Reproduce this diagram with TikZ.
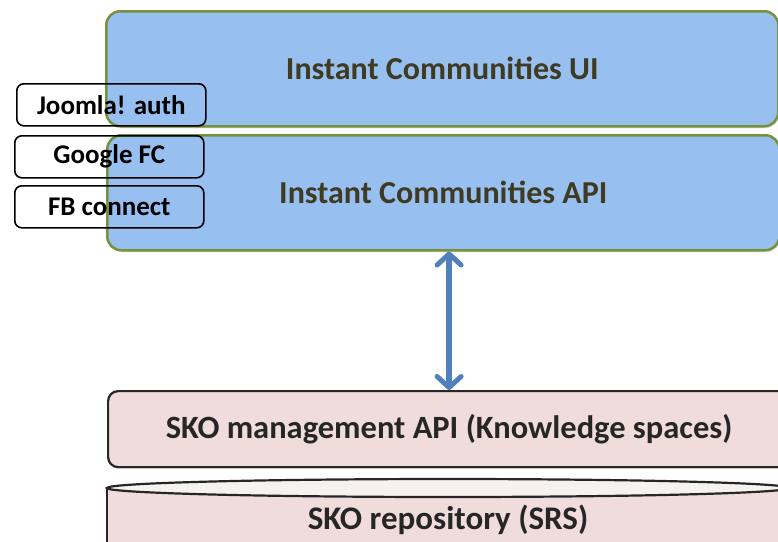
\documentclass[tikz,border=0pt]{standalone}
\usepackage{fontspec}
\setmainfont{Carlito}
\usetikzlibrary{arrows.meta,shadows}
\definecolor{uiblue}{HTML}{97BFF0}
\definecolor{uigreen}{HTML}{76923C}
\definecolor{uitext}{HTML}{3F3A22}
\definecolor{skopink}{HTML}{F0DCDB}
\definecolor{skotop}{HTML}{F6F2F2}
\definecolor{arrowblue}{HTML}{4F81BD}

\begin{document}
\begin{tikzpicture}[x=1pt,y=-1pt,
  layer/.style={draw=uigreen, line width=2.5pt, fill=uiblue, rounded corners=14pt,
    text=uitext, font=\bfseries\fontsize{32}{38}\selectfont,
    minimum width=672pt, minimum height=115pt, inner sep=0pt, anchor=north west,
    drop shadow={opacity=0.25, shadow xshift=1pt, shadow yshift=-2pt}},
  authbox/.style={draw=black, line width=1.6pt, rounded corners=7pt,
    font=\bfseries\fontsize{27}{32}\selectfont,
    minimum width=189pt, minimum height=42pt, inner sep=0pt, anchor=north west},
  skobox/.style={draw=black!85, line width=2.2pt, fill=skopink, rounded corners=10pt,
    text=black!85, font=\bfseries\fontsize{32.5}{38}\selectfont,
    minimum width=682pt, minimum height=76pt, inner sep=0pt, anchor=north west,
    drop shadow={opacity=0.25, shadow xshift=1pt, shadow yshift=-2pt}}
  ]
  \useasboundingbox (0,0) rectangle (778,541);

  % instant communities layers
  \node[layer] (ui) at (105,10) {Instant Communities UI};
  \node[layer] (api) at (106,134) {Instant Communities API};

  % authentication plugins
  \node[authbox] (joomla) at (16,83) {Joomla! auth};
  \node[authbox] (google) at (14,135) {Google FC};
  \node[authbox] (fb) at (14,185) {FB connect};

  % SKO side
  \node[skobox] (skoapi) at (107,390) {SKO management API (Knowledge spaces)};

  \fill[skopink] (107,488) rectangle (790,560);
  \draw[black!85, line width=2.2pt] (107,488) -- (107,560);
  \draw[black!85, line width=2.2pt, fill=skotop] (448,488) ellipse [x radius=341, y radius=9];
  \node[text=black!85, font=\bfseries\fontsize{33}{38}\selectfont] (repo) at (448,520)
    {SKO repository (SRS)};

  \draw[arrowblue, line width=6pt,
    {Straight Barb[round, length=11pt, width=24pt, line width=5pt]}-{Straight Barb[round, length=11pt, width=24pt, line width=5pt]}]
    (skoapi.north |- api.south) -- (skoapi.north);
\end{tikzpicture}
\end{document}
